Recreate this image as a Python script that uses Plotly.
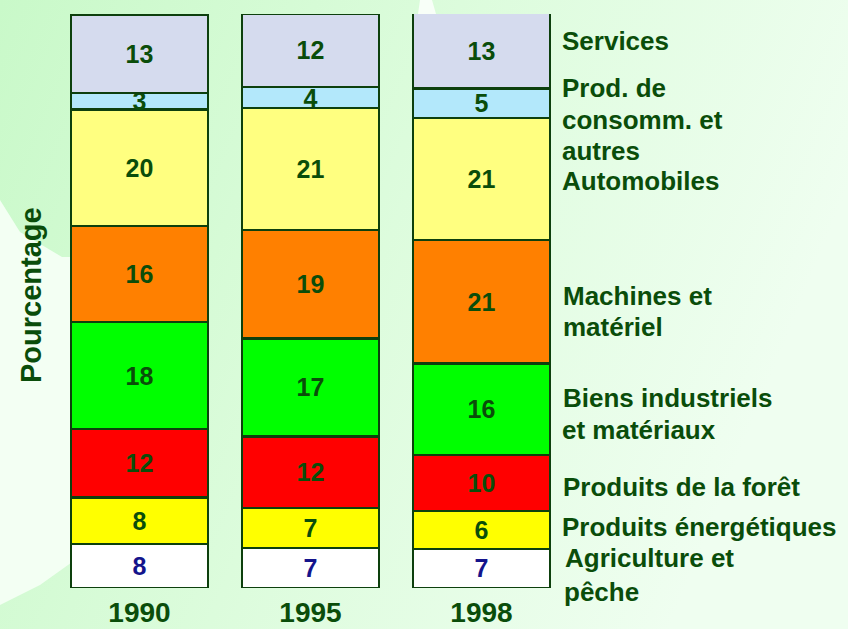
import base64
import plotly.graph_objects as go

# ---- data ----
years = ["1990", "1995", "1998"]

series_names = [
    "Agriculture et pêche",
    "Produits énergétiques",
    "Produits de la forêt",
    "Biens industriels et matériaux",
    "Machines et matériel",
    "Automobiles",
    "Prod. de consomm. et autres",
    "Services",
]

# bar heights (share, %)
agri_share = [7.7, 7.0, 6.8]
energy_share = [8.1, 6.9, 6.6]
forest_share = [11.9, 12.5, 9.8]
biens_share = [18.6, 17.1, 15.9]
machines_share = [16.8, 18.9, 21.5]
auto_share = [20.3, 21.2, 21.3]
prod_share = [2.8, 3.7, 5.1]
services_share = [13.7, 12.7, 13.2]

# printed labels in the bars
agri_lbl = [8, 7, 7]
energy_lbl = [8, 7, 6]
forest_lbl = [12, 12, 10]
biens_lbl = [18, 17, 16]
machines_lbl = [16, 19, 21]
auto_lbl = [20, 21, 21]
prod_lbl = [3, 4, 5]
services_lbl = [13, 12, 13]

shares = [agri_share, energy_share, forest_share, biens_share,
          machines_share, auto_share, prod_share, services_share]
labels = [agri_lbl, energy_lbl, forest_lbl, biens_lbl,
          machines_lbl, auto_lbl, prod_lbl, services_lbl]

colors = ["#ffffff", "#ffff00", "#ff0000", "#00ff00",
          "#ff8000", "#ffff80", "#b3e8fb", "#d5dbee"]
text_colors = ["#14148c"] + ["#0a4d0a"] * 7

DARK = "#0a4d0a"
FONT = "Liberation Sans, Arial, sans-serif"

fig = go.Figure()
for name, vals, lbls, col, tcol in zip(series_names, shares, labels, colors, text_colors):
    fig.add_trace(go.Bar(
        x=years, y=vals, name=name,
        text=[str(v) for v in lbls],
        textposition="inside",
        insidetextanchor="middle",
        constraintext="none",
        textangle=0,
        textfont=dict(family=FONT, size=25, color=tcol, weight="bold"),
        marker=dict(color=col, line=dict(color="#0d400d", width=2.5)),
        hoverinfo="skip",
    ))

W, H = 848, 629
ML, MR, MT, MB = 54, 281, 14, 41
pw = W - ML - MR
ph = H - MT - MB


def px_x(x):
    return (x - ML) / pw


def px_y(y):
    return (H - MB - y) / ph


# right-hand category labels, one entry per printed line
right_lines = [
    ("Services", 560, 41),
    ("Prod. de", 560, 88),
    ("consomm. et", 560, 120),
    ("autres", 560, 151),
    ("Automobiles", 560, 181),
    ("Machines et", 561, 296),
    ("matériel", 561, 327),
    ("Biens industriels", 561, 398),
    ("et matériaux", 560, 430),
    ("Produits de la forêt", 561, 487),
    ("Produits énergétiques", 560, 527),
    ("Agriculture et", 563, 558),
    ("pêche", 562, 592),
]

annotations = []
for txt, x, y in right_lines:
    annotations.append(dict(
        text=txt, x=px_x(x), y=px_y(y), xref="paper", yref="paper",
        xanchor="left", yanchor="middle", align="left", showarrow=False,
        font=dict(family=FONT, size=26, color=DARK, weight="bold"),
    ))

annotations.append(dict(
    text="Pourcentage", x=px_x(31), y=px_y(295), xref="paper", yref="paper",
    xanchor="center", yanchor="middle", showarrow=False, textangle=-90,
    font=dict(family=FONT, size=29, color=DARK, weight="bold"),
))

# soft green background (gradient + pale leaf area on the left)
svg = f"""<svg xmlns='http://www.w3.org/2000/svg' width='{W}' height='{H}' viewBox='0 0 {W} {H}' preserveAspectRatio='none'>
<defs><linearGradient id='g' x1='0' y1='0' x2='1' y2='0.3'>
<stop offset='0' stop-color='#c9f9c9'/><stop offset='0.5' stop-color='#dcfcdc'/>
<stop offset='1' stop-color='#effef0'/></linearGradient></defs>
<rect width='{W}' height='{H}' fill='url(#g)'/>
<polygon points='0,200 20,232 62,257 75,257 75,560 40,585 0,605' fill='#f3fff3'/>
<polygon points='420,0 432,0 436,14 418,14' fill='#f8fff8'/>
</svg>"""
src = "data:image/svg+xml;base64," + base64.b64encode(svg.encode()).decode()

fig.update_layout(
    width=W, height=H, autosize=False,
    margin=dict(l=ML, r=MR, t=MT, b=MB),
    barmode="stack",
    bargap=0.2,
    showlegend=False,
    paper_bgcolor="#dcfbdc",
    plot_bgcolor="rgba(0,0,0,0)",
    annotations=annotations,
    images=[dict(
        source=src, xref="paper", yref="paper",
        x=px_x(0), y=px_y(0), sizex=W / pw, sizey=H / ph,
        xanchor="left", yanchor="top", sizing="stretch", layer="below",
    )],
    xaxis=dict(
        range=[-0.5, 2.5], showgrid=False, zeroline=False, showline=False,
        ticks="", ticklabelstandoff=5, automargin=False,
        tickfont=dict(family=FONT, size=28, color=DARK, weight="bold"),
        fixedrange=True,
    ),
    yaxis=dict(
        range=[0, 100], showgrid=False, zeroline=False, showline=False,
        showticklabels=False, ticks="", fixedrange=True, automargin=False,
    ),
)

fig.write_html(
    "out.html",
    config={"responsive": False, "displayModeBar": False, "staticPlot": True},
    post_script=(
        "document.documentElement.style.margin='0';"
        "document.body.style.margin='0';"
        "document.body.style.overflow='hidden';"
    ),
)
